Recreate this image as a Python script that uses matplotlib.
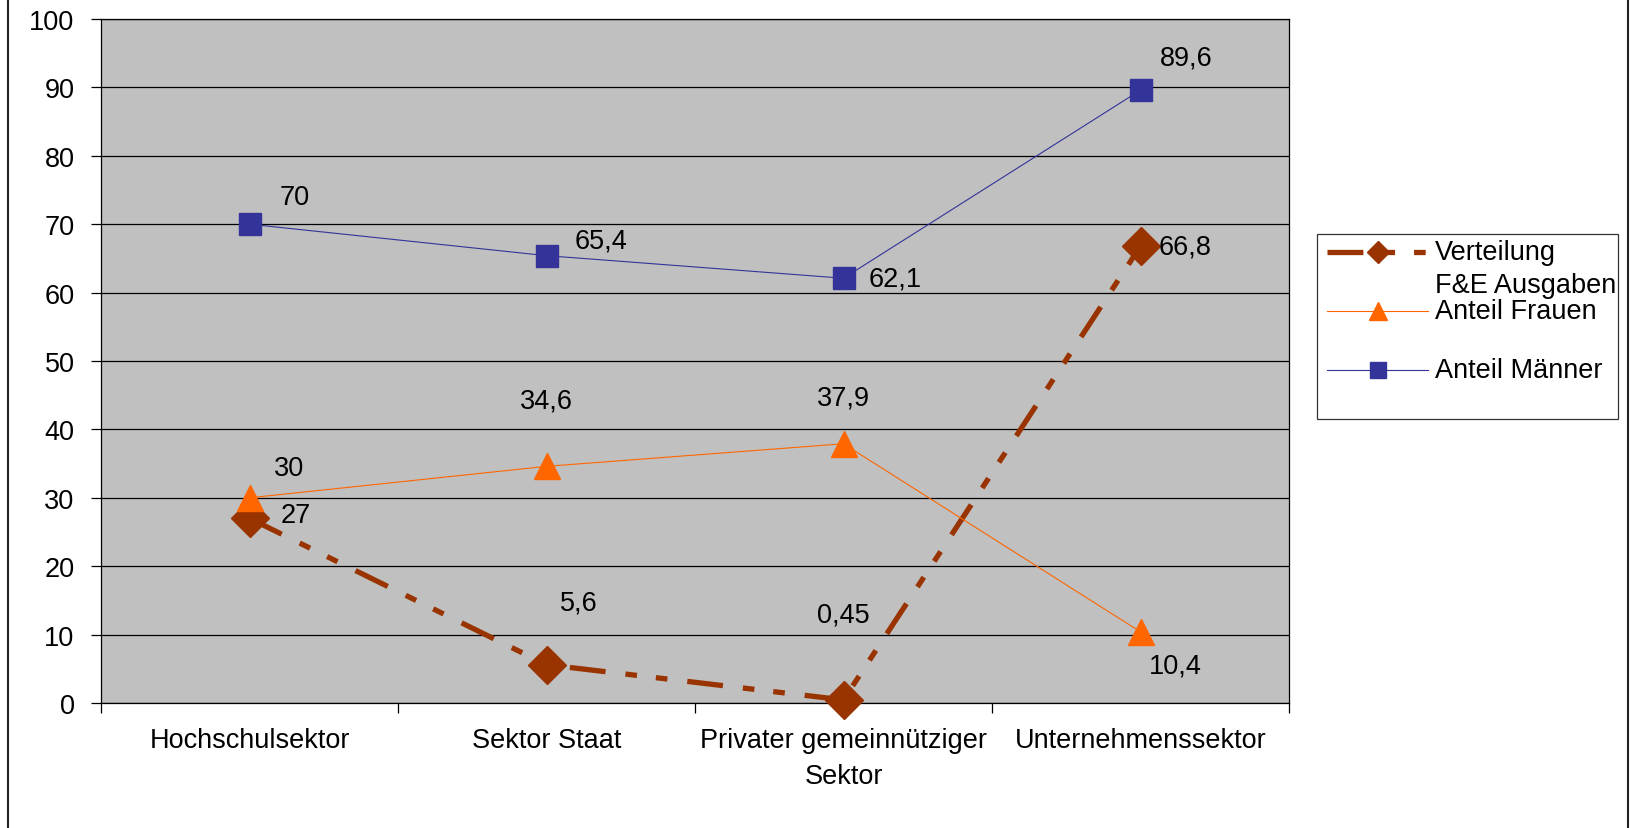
import matplotlib
matplotlib.use("Agg")
import matplotlib.pyplot as plt
from matplotlib.lines import Line2D

plt.rcParams['font.family'] = ['Liberation Sans', 'DejaVu Sans']

categories = ["Hochschulsektor", "Sektor Staat",
              "Privater gemeinnütziger\nSektor", "Unternehmenssektor"]
verteilung = [27, 5.6, 0.45, 66.8]
frauen = [30, 34.6, 37.9, 10.4]
maenner = [70, 65.4, 62.1, 89.6]
y_ticks = list(range(0, 101, 10))

series_names = ["Verteilung\nF&E Ausgaben", "Anteil Frauen", "Anteil Männer"]

C_VERT = "#993300"
C_FRAU = "#FF6600"
C_MANN = "#333399"
DASH = (0, (6.8, 3.8, 2.2, 3.6, 2.2, 3.8))
FS = 19.5

W, H = 1630, 829
fig = plt.figure(figsize=(W / 100, H / 100), dpi=100)
ax = fig.add_axes([101 / W, 1 - 704 / H, (1289 - 101) / W, (704 - 20) / H])
ax.set_facecolor("#C0C0C0")

x = list(range(len(categories)))

ax.plot(x, verteilung, color=C_VERT, lw=3.8, linestyle=DASH,
        dash_capstyle='butt', marker='D', ms=19, mec=C_VERT, mfc=C_VERT,
        zorder=3, clip_on=False)
ax.plot(x, frauen, color=C_FRAU, lw=0.8, marker='^', ms=19, mec=C_FRAU,
        mfc=C_FRAU, zorder=4, clip_on=False)
ax.plot(x, maenner, color=C_MANN, lw=0.8, marker='s', ms=16.5, mec=C_MANN,
        mfc=C_MANN, zorder=5, clip_on=False)

# value labels (offsets in pixels from each point)
off_vert = [(46, 3), (32, 62), (0, 85), (45, 0)]
off_frau = [(40, 30), (0, 66), (0, 46), (35, -34)]
off_mann = [(45, 27), (54, 15), (52, 0), (46, 33)]


def fmt(v):
    return ("%g" % v).replace(".", ",")


for vals, offs in ((verteilung, off_vert), (frauen, off_frau), (maenner, off_mann)):
    for xi, v, (dx, dy) in zip(x, vals, offs):
        ax.annotate(fmt(v), (xi, v), xytext=(dx, dy), textcoords='offset pixels',
                    ha='center', va='center', fontsize=FS, zorder=6)

ax.set_xlim(-0.5, len(categories) - 0.5)
ax.set_ylim(0, 100)
ax.set_yticks(y_ticks)
ax.set_yticklabels([str(t) for t in y_ticks])
ax.yaxis.grid(True, color='black', lw=0.9)
ax.set_axisbelow(True)

ax.set_xticks([i - 0.5 for i in range(len(categories) + 1)])
ax.set_xticklabels([])
ax.set_xticks(x, minor=True)
ax.set_xticklabels(categories, minor=True, fontsize=FS, linespacing=1.5)
ax.tick_params(axis='x', which='minor', length=0, pad=17)
ax.tick_params(axis='x', which='major', length=7, width=0.9, direction='out')
ax.tick_params(axis='y', length=7, width=0.9, direction='out', pad=12, labelsize=FS)

for side in ('left', 'bottom', 'top', 'right'):
    ax.spines[side].set_color('black')
    ax.spines[side].set_linewidth(0.9)


# legend drawn in figure pixels
def fx(px):
    return px / W


def fy(py):
    return 1 - py / H


fig.patches.append(plt.Rectangle((fx(1317), fy(420)), fx(1618) - fx(1317),
                                 fy(235) - fy(420), transform=fig.transFigure,
                                 facecolor='white', edgecolor='#333333', lw=0.9))
rows = [253, 312, 371]
styles = [dict(color=C_VERT, lw=3.8, linestyle=DASH, dash_capstyle='butt',
               marker='D', ms=11),
          dict(color=C_FRAU, lw=0.8, marker='^', ms=13),
          dict(color=C_MANN, lw=0.8, marker='s', ms=11)]
for ry, st in zip(rows, styles):
    fig.lines.append(Line2D([fx(1327), fx(1428)], [fy(ry), fy(ry)],
                            transform=fig.transFigure, markevery=[], **st))
    fig.lines.append(Line2D([fx(1377.5)], [fy(ry)], transform=fig.transFigure,
                            color=st['color'], marker=st['marker'], ms=st['ms'],
                            linestyle='none'))
fig.text(fx(1435), fy(253), "Verteilung", fontsize=FS, va='center')
fig.text(fx(1435), fy(286), "F&E Ausgaben", fontsize=FS, va='center')
fig.text(fx(1435), fy(312), series_names[1], fontsize=FS, va='center')
fig.text(fx(1435), fy(371), series_names[2], fontsize=FS, va='center')

# outer chart frame (sides)
for px in (7.5, 1627.5):
    fig.lines.append(Line2D([fx(px), fx(px)], [0, 1], transform=fig.transFigure,
                            color='#222222', lw=1.5))

fig.savefig("out.png", dpi=100, facecolor='white')
